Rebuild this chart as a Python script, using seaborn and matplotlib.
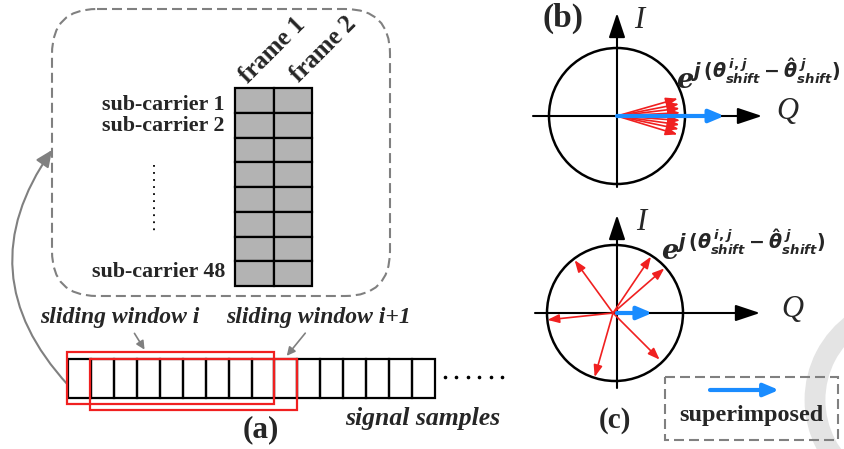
import numpy as np
import pandas as pd
import matplotlib
matplotlib.use("Agg")
import matplotlib.pyplot as plt
import seaborn as sns
from matplotlib.patches import Rectangle, FancyBboxPatch, FancyArrowPatch, Circle, Arc

# ---------------- data ----------------
frames = ["frame 1", "frame 2"]
n_rows = 8
subcarrier_labels = ["sub-carrier 1", "sub-carrier 2", "sub-carrier 48"]
subcarrier_rows = [0, 1, 7]
n_samples = 16
window_labels = ["sliding window i", "sliding window i+1"]
window_start = [0.0, 0.95]
window_len = 9.0
b_angles = [16, 11, 7, 3, -4, -8, -12, -17]          # degrees, panel (b) red phasors
b_len = 0.93
c_angles = [126, 56, 41, 186, 254, 315]               # degrees, panel (c) red phasors
c_len = [0.96, 1.0, 1.0, 0.97, 0.98, 0.97]
b_blue = 1.58   # superimposed length (in circle radii)
c_blue = 0.52
panel_labels = ["(a)", "(b)", "(c)"]

# ---------------- style ----------------
sns.set_theme(style="white")
plt.rcParams["font.family"] = ["Liberation Serif", "DejaVu Serif"]
plt.rcParams["mathtext.fontset"] = "custom"
plt.rcParams["mathtext.it"] = "DejaVu Sans:italic:bold"
plt.rcParams["mathtext.rm"] = "DejaVu Sans:bold"
plt.rcParams["mathtext.bf"] = "DejaVu Serif:italic:bold"

RED = "#f02020"
BLUE = "#1a8cff"
GREY = "#808080"

fig = plt.figure(figsize=(8.44, 4.49), dpi=100)
ax = fig.add_axes([0, 0, 1, 1])
ax.set_xlim(0, 844)
ax.set_ylim(449, 0)
ax.axis("off")

# faint watermark arc
ax.add_patch(Arc((910, 400), 190, 190, theta1=125, theta2=235, color="#e4e4e4", lw=15, zorder=0))

# ---------------- panel (a) ----------------
box = FancyBboxPatch((52, 9), 338, 287, boxstyle="round,pad=0,rounding_size=45",
                     fill=False, ec=GREY, lw=1.5, ls=(0, (4.8, 2.4)), zorder=1)
ax.add_patch(box)

gx0, gy0, cw, rh = 235, 88, 38.5, 198 / n_rows
for c in range(len(frames)):
    for r in range(n_rows):
        ax.add_patch(Rectangle((gx0 + c * cw, gy0 + r * rh), cw, rh, fc="#b3b3b3",
                               ec="black", lw=1.6, zorder=2))
frame_pos = [(273, 50), (324, 49)]
for lab, (x, y) in zip(frames, frame_pos):
    ax.text(x, y, lab, rotation=45, ha="center", va="center", fontsize=18,
            fontweight="bold")

sc_y = [105, 126, 272]
for lab, y in zip(subcarrier_labels, sc_y):
    ax.text(225, y, lab, ha="right", va="center", fontsize=15.8, fontweight="bold")
ax.plot([154, 154], [165, 233], ls=(0, (1, 2.9)), color="black", lw=1.3)

# signal samples
sx0, sy0, sw, sh = 68, 359, 22.94, 39
for k in range(n_samples):
    ax.add_patch(Rectangle((sx0 + k * sw, sy0), sw, sh, fill=False, ec="black", lw=1.6, zorder=2))
ax.plot(np.linspace(445, 502, 6), [377] * 6, ls="none", marker="o", ms=1.6, color="black")

# windows
ax.add_patch(Rectangle((sx0 + window_start[0] * sw - 1, 352), window_len * sw + 1, 52,
                       fill=False, ec=RED, lw=1.6, zorder=3))
ax.add_patch(Rectangle((sx0 + window_start[1] * sw, 359), window_len * sw + 1, 51,
                       fill=False, ec=RED, lw=1.6, zorder=3))
ax.text(40, 318, window_labels[0], ha="left", va="center", fontsize=17,
        fontweight="bold", fontstyle="italic")
ax.text(226, 318, window_labels[1], ha="left", va="center", fontsize=17,
        fontweight="bold", fontstyle="italic")
ax.add_patch(FancyArrowPatch((133, 331), (146, 352), arrowstyle="-|>,head_length=5,head_width=2.5",
                             mutation_scale=1, color=GREY, lw=1.2))
ax.add_patch(FancyArrowPatch((307, 331), (285, 358), arrowstyle="-|>,head_length=5,head_width=2.5",
                             mutation_scale=1, color=GREY, lw=1.2))
ax.text(500, 419, "signal samples", ha="right", va="center", fontsize=18.5,
        fontweight="bold", fontstyle="italic")
ax.text(261, 430, panel_labels[0], ha="center", va="center", fontsize=22.5, fontweight="bold")

# curved arrow
ax.add_patch(FancyArrowPatch((68, 385), (52, 150), connectionstyle="arc3,rad=-0.4",
                             arrowstyle="-|>,head_length=10,head_width=4.5", mutation_scale=1,
                             color=GREY, lw=1.5, shrinkA=0, shrinkB=0))

# ---------------- panels (b) and (c) ----------------
def phasor_panel(cx, cy, r, axis_x, axis_y0, axis_y1, qx0, qx1, ox, oy, angles, lens, blue_len):
    ax.add_patch(Circle((cx, cy), r, fill=False, ec="black", lw=1.8, zorder=2))
    ax.add_patch(FancyArrowPatch((axis_x, axis_y0), (axis_x, axis_y1),
                                 arrowstyle="-|>,head_length=15,head_width=5", mutation_scale=1,
                                 color="black", lw=1.5, shrinkA=0, shrinkB=0, zorder=2))
    ax.add_patch(FancyArrowPatch((qx0, cy), (qx1, cy),
                                 arrowstyle="-|>,head_length=15,head_width=5", mutation_scale=1,
                                 color="black", lw=1.5, shrinkA=0, shrinkB=0, zorder=2))
    for a, L in zip(angles, lens):
        t = np.deg2rad(a)
        ax.add_patch(FancyArrowPatch((ox, oy), (ox + L * r * np.cos(t), oy - L * r * np.sin(t)),
                                     arrowstyle="-|>,head_length=7,head_width=2.6", mutation_scale=1,
                                     color=RED, lw=1.2, shrinkA=0, shrinkB=0, zorder=3))
    ax.add_patch(FancyArrowPatch((axis_x, cy), (axis_x + blue_len * r, cy),
                                 arrowstyle="-|>,head_length=9,head_width=3.8", mutation_scale=1,
                                 color=BLUE, lw=3, shrinkA=0, shrinkB=0, zorder=4))

phasor_panel(617, 116, 68, 617, 187, 13, 533, 762, 617, 116,
             b_angles, [b_len] * len(b_angles), b_blue)
phasor_panel(615, 313, 68, 617, 388, 215, 535, 760, 613, 313,
             c_angles, c_len, c_blue)

expr = r"$\mathbf{e}^{j\,(\theta^{\,i,j}_{shift}-\hat{\theta}^{\;j}_{shift})}$"
ax.text(676, 89, expr, ha="left", va="baseline", fontsize=19.5)
ax.text(661, 260, expr, ha="left", va="baseline", fontsize=19.5)

ax.text(639, 20, "I", ha="center", va="center", fontsize=22, fontstyle="italic")
ax.text(787, 112, "Q", ha="center", va="center", fontsize=22, fontstyle="italic")
ax.text(641, 222, "I", ha="center", va="center", fontsize=22, fontstyle="italic")
ax.text(792, 309, "Q", ha="center", va="center", fontsize=22, fontstyle="italic")

ax.text(563, 18, panel_labels[1], ha="center", va="center", fontsize=24, fontweight="bold")
ax.text(615, 421, panel_labels[2], ha="center", va="center", fontsize=21, fontweight="bold")

# legend box
ax.add_patch(Rectangle((665, 377), 173, 63, fill=False, ec=GREY, lw=1.5, ls=(0, (4.8, 2.4)), zorder=1))
ax.add_patch(FancyArrowPatch((710, 390), (779, 390), arrowstyle="-|>,head_length=9,head_width=3.8",
                             mutation_scale=1, color=BLUE, lw=3, shrinkA=0, shrinkB=0))
ax.text(751, 416, "superimposed", ha="center", va="center", fontsize=17.5, fontweight="bold")

fig.savefig("out.png", dpi=100)
